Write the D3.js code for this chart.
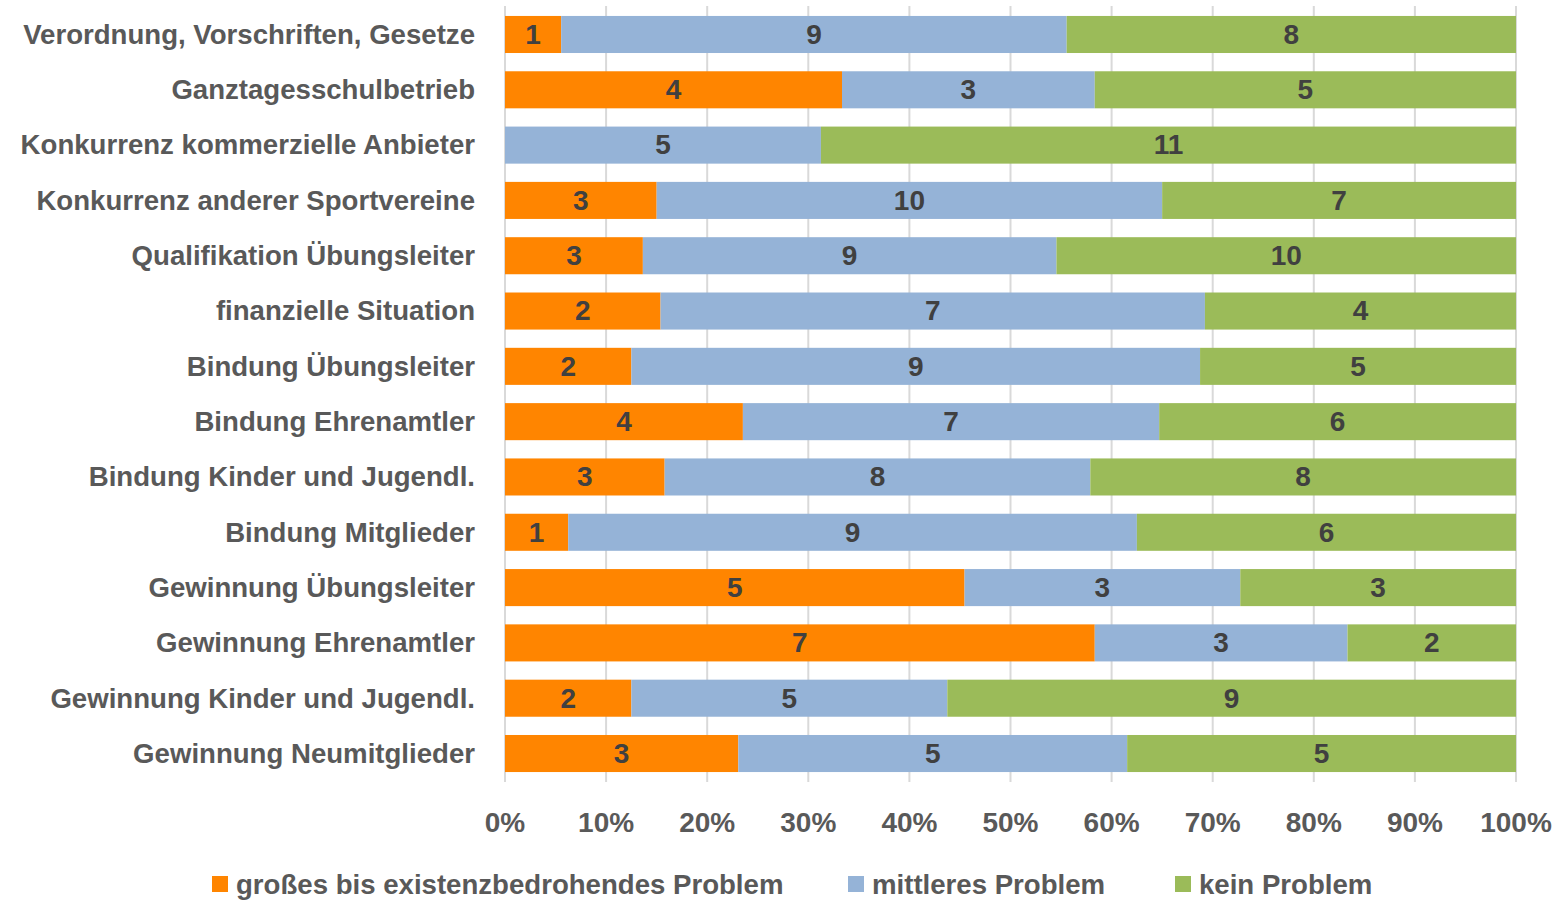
<!DOCTYPE html>
<html><head><meta charset="utf-8">
<script src="https://cdn.jsdelivr.net/npm/d3@7"></script>
<style>body{margin:0;background:#fff}svg{display:block}</style>
</head><body>
<svg id="c" width="1566" height="901"></svg>
<script>
const categories = ["Verordnung, Vorschriften, Gesetze","Ganztagesschulbetrieb","Konkurrenz kommerzielle Anbieter","Konkurrenz anderer Sportvereine","Qualifikation Übungsleiter","finanzielle Situation","Bindung Übungsleiter","Bindung Ehrenamtler","Bindung Kinder und Jugendl.","Bindung Mitglieder","Gewinnung Übungsleiter","Gewinnung Ehrenamtler","Gewinnung Kinder und Jugendl.","Gewinnung Neumitglieder"];
const seriesNames = ["großes bis existenzbedrohendes Problem","mittleres Problem","kein Problem"];
const grossValues = [1,4,0,3,3,2,2,4,3,1,5,7,2,3];
const mittelValues = [9,3,5,10,9,7,9,7,8,9,3,3,5,5];
const keinValues = [8,5,11,7,10,4,5,6,8,6,3,2,9,5];
const tickLabels = ["0%","10%","20%","30%","40%","50%","60%","70%","80%","90%","100%"];
const colors = ["#FF8500","#95B3D7","#9BBB59"];

const font = "'Liberation Sans Narrow','Arial Narrow',sans-serif";
const svg = d3.select("#c");
const L=505, R=1516, T=6, B=782;
const x = d3.scaleLinear().domain([0,1]).range([L,R]);
const y = d3.scaleBand().domain(categories).range([T,B]).paddingInner(0.33).paddingOuter(0.18);

const rows = categories.map((c,i)=>{
  const vals=[grossValues[i],mittelValues[i],keinValues[i]];
  const tot=d3.sum(vals); let acc=0;
  return vals.map((v,k)=>{const s={cat:c,k,v,x0:acc/tot,x1:(acc+v)/tot};acc+=v;return s;});
});

// gridlines
svg.append("g").selectAll("line").data(d3.range(0,11)).join("line")
  .attr("x1",d=>x(d/10)).attr("x2",d=>x(d/10)).attr("y1",T).attr("y2",B)
  .attr("stroke","#d9d9d9").attr("stroke-width",2);

const g = svg.append("g");
rows.forEach(r=>{
  r.filter(s=>s.v>0).forEach(s=>{
    g.append("rect").attr("x",x(s.x0)).attr("y",y(s.cat)).attr("width",x(s.x1)-x(s.x0)).attr("height",y.bandwidth())
      .attr("fill",colors[s.k]);
    g.append("text").attr("x",(x(s.x0)+x(s.x1))/2).attr("y",y(s.cat)+y.bandwidth()/2+2)
      .attr("text-anchor","middle").attr("dominant-baseline","middle")
      .attr("font-family",font).attr("font-weight","bold").attr("font-size",28).attr("fill","#404040").text(s.v);
  });
});

// y labels
svg.append("g").selectAll("text").data(categories).join("text")
  .attr("x",475).attr("y",d=>y(d)+y.bandwidth()/2+2).attr("text-anchor","end").attr("dominant-baseline","middle")
  .attr("font-family",font).attr("font-weight","bold").attr("font-size",27.6).attr("fill","#595959").text(d=>d);

// x axis labels
svg.append("g").selectAll("text").data(tickLabels).join("text")
  .attr("x",(d,i)=>x(i/10)).attr("y",832).attr("text-anchor","middle")
  .attr("font-family",font).attr("font-weight","bold").attr("font-size",28).attr("fill","#595959").text(d=>d);

// legend
const legX=[212,848,1175];
const lg = svg.append("g");
seriesNames.forEach((n,i)=>{
  lg.append("rect").attr("x",legX[i]).attr("y",876).attr("width",16).attr("height",16).attr("fill",colors[i]);
  lg.append("text").attr("x",legX[i]+24).attr("y",894).attr("font-family",font).attr("font-weight","bold")
    .attr("font-size",27.6).attr("fill","#595959").text(n);
});
</script>
</body></html>
